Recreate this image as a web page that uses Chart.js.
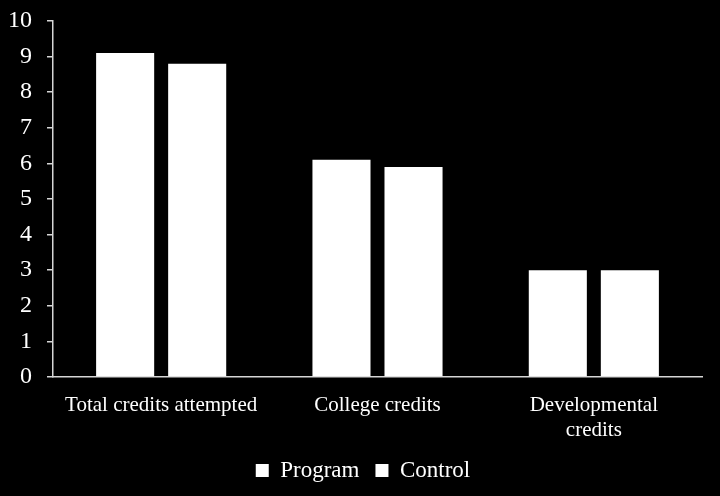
<!DOCTYPE html>
<html>
<head>
<meta charset="utf-8">
<script src="https://cdn.jsdelivr.net/npm/chart.js@4"></script>
<style>
html,body{margin:0;padding:0;background:#000;}
#wrap{width:720px;height:496px;}
</style>
</head>
<body>
<div id="wrap"><canvas id="c" width="720" height="496"></canvas></div>
<script>
const categories = [["Total credits attempted"], ["College credits"], ["Developmental", "credits"]];
const programValues = [9.1, 6.1, 3.0];
const controlValues = [8.8, 5.9, 3.0];
const seriesNames = ["Program", "Control"];

const bgPlugin = {
  id: 'bg',
  beforeDraw(chart) {
    const ctx = chart.ctx;
    ctx.save();
    ctx.fillStyle = '#000';
    ctx.fillRect(0, 0, chart.width, chart.height);
    ctx.restore();
  }
};

const legendShift = {
  id: 'legendShift',
  afterLayout(chart) {
    if (chart.legend) {
      chart.legend.left += 12;
      chart.legend.right += 12;
    }
  }
};

const font = "'Liberation Serif', 'Times New Roman', serif";

new Chart(document.getElementById('c'), {
  type: 'bar',
  data: {
    labels: categories,
    datasets: [
      { label: seriesNames[0], data: programValues, backgroundColor: '#fff', borderWidth: 0 },
      { label: seriesNames[1], data: controlValues, backgroundColor: '#fff', borderWidth: 0 }
    ]
  },
  options: {
    responsive: false,
    animation: false,
    devicePixelRatio: 1,
    layout: { padding: { left: 0, right: 18, top: 21, bottom: 4 } },
    datasets: { bar: { categoryPercentage: 0.666, barPercentage: 0.806 } },
    plugins: {
      legend: {
        position: 'bottom',
        labels: {
          color: '#fff',
          font: { family: font, size: 23 },
          boxWidth: 13,
          boxHeight: 13,
          padding: 16
        }
      },
      tooltip: { enabled: false }
    },
    scales: {
      x: {
        grid: { display: false },
        border: { display: true, color: '#d6d6d6', width: 1.5 },
        ticks: { color: '#fff', font: { family: font, size: 21 }, maxRotation: 0, padding: 8 },
        afterFit(scale) { scale.height = 66; }
      },
      y: {
        min: 0, max: 10,
        grid: { drawOnChartArea: false, drawTicks: true, tickLength: 6, color: '#d6d6d6', lineWidth: 1.5 },
        border: { display: true, color: '#d6d6d6', width: 1.5 },
        ticks: { stepSize: 1, color: '#fff', font: { family: font, size: 24 }, padding: 15 },
        afterFit(scale) { scale.width = 53; scale.paddingTop = 0; scale.paddingBottom = 0; }
      }
    }
  },
  plugins: [bgPlugin, legendShift]
});
</script>
</body>
</html>
